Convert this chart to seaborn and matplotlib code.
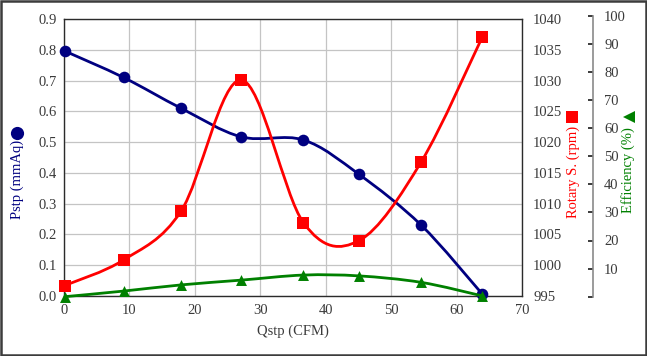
import numpy as np
import matplotlib
matplotlib.use("Agg")
import matplotlib.pyplot as plt
import seaborn as sns
from matplotlib.path import Path
from matplotlib.patches import PathPatch, Rectangle
from matplotlib.lines import Line2D
from matplotlib.ticker import FormatStrFormatter, FixedLocator

# ---- data ----
qstp = [0.1, 9.1, 17.9, 27.1, 36.6, 45.1, 54.6, 63.9]
pstp = [0.796, 0.710, 0.610, 0.517, 0.507, 0.395, 0.230, 0.007]
rotary = [996.7, 1000.85, 1008.8, 1030.1, 1006.9, 1004.0, 1016.8, 1037.0]
efficiency = [0.0, 2.0, 4.2, 5.9, 7.7, 7.4, 5.1, 0.3]

x_ticks = [0, 10, 20, 30, 40, 50, 60, 70]
p_ticks = [0.0, 0.1, 0.2, 0.3, 0.4, 0.5, 0.6, 0.7, 0.8, 0.9]
r_ticks = [995, 1000, 1005, 1010, 1015, 1020, 1025, 1030, 1035, 1040]
e_ticks = [0, 10, 20, 30, 40, 50, 60, 70, 80, 90, 100]

x_label = "Qstp (CFM)"
p_label = "Pstp (mmAq)"
r_label = "Rotary S. (rpm)"
e_label = "Efficiency (%)"

NAVY = "#000080"
RED = "#ff0000"
GREEN = "#008000"
TXT = "#3a3a3a"

sns.set_theme(style="white")
plt.rcParams["font.family"] = ["Liberation Serif", "DejaVu Sans"]
FS = 10.5

W, H = 647, 356
fig = plt.figure(figsize=(W / 100, H / 100), dpi=100)


def fx(px):
    return px / W


def fy(py):
    return 1 - py / H


def smooth_path(x, y):
    pts = np.column_stack([x, y]).astype(float)
    n = len(pts)
    verts = [pts[0]]
    codes = [Path.MOVETO]
    for i in range(n - 1):
        p0 = pts[i - 1] if i > 0 else pts[i]
        p1 = pts[i]
        p2 = pts[i + 1]
        p3 = pts[i + 2] if i + 2 < n else pts[i + 1]
        c1 = p1 + (p2 - p0) / 6.0
        c2 = p2 - (p3 - p1) / 6.0
        verts += [c1, c2, p2]
        codes += [Path.CURVE4] * 3
    return Path(verts, codes)


L, R, T, B = 64, 522, 19, 296
ax = fig.add_axes([fx(L), fy(B), (R - L) / W, (B - T) / H])
ax.set_facecolor("white")
ax.set_xlim(0, 70)
ax.set_ylim(0, 0.9)
ax.set_xticks(x_ticks)
ax.set_yticks(p_ticks)
ax.yaxis.set_major_formatter(FormatStrFormatter("%.1f"))
ax.grid(True, color="#c4c4c4", lw=0.9)
ax.tick_params(axis="both", length=0, labelsize=FS, colors=TXT)
ax.tick_params(axis="y", pad=5)
ax.tick_params(axis="x", pad=6)
for s in ax.spines.values():
    s.set_color("#2b2b2b")
    s.set_linewidth(1.0)
ax.set_xlabel(x_label, fontsize=FS, color=TXT, labelpad=5)

LW = 2.0
ax.add_patch(PathPatch(smooth_path(qstp, pstp), fill=False, ec=NAVY, lw=LW, zorder=3, clip_on=False))
sns.scatterplot(x=qstp, y=pstp, ax=ax, marker="o", s=70, color=NAVY, edgecolor=NAVY,
                linewidth=0, zorder=4, clip_on=False, legend=False)

# rotary axis
ax2 = ax.twinx()
ax2.set_ylim(995, 1040)
ax2.set_yticks(r_ticks)
ax2.tick_params(axis="y", length=0, labelsize=FS, colors=TXT, pad=8)
for s in ax2.spines.values():
    s.set_visible(False)
ax2.grid(False)
ax2.add_patch(PathPatch(smooth_path(qstp, rotary), fill=False, ec=RED, lw=LW, zorder=3, clip_on=False))
sns.scatterplot(x=qstp, y=rotary, ax=ax2, marker="s", s=78, color=RED, edgecolor=RED,
                linewidth=0, zorder=4, clip_on=False, legend=False)

# efficiency axis
ET, EB = 15.7, 296.7
ax3 = fig.add_axes([fx(L), fy(EB), (R - L) / W, (EB - ET) / H], sharex=ax)
ax3.patch.set_visible(False)
ax3.set_ylim(0, 100)
ax3.yaxis.set_major_locator(FixedLocator(e_ticks))
ax3.set_yticklabels([""] + [str(v) for v in e_ticks[1:]])
ax3.yaxis.tick_right()
ax3.xaxis.set_visible(False)
ax3.grid(False)
for k, s in ax3.spines.items():
    s.set_visible(k == "right")
ax3.spines["right"].set_position(("axes", (593 - L) / (R - L)))
ax3.spines["right"].set_color("#8a8a8a")
ax3.spines["right"].set_linewidth(1.2)
ax3.tick_params(axis="y", direction="in", length=3.5, width=1.2, color="#1a1a1a",
                labelsize=FS, labelcolor=TXT, pad=8)
ax3.add_patch(PathPatch(smooth_path(qstp, efficiency), fill=False, ec=GREEN, lw=LW, zorder=3, clip_on=False))
sns.scatterplot(x=qstp, y=efficiency, ax=ax3, marker="^", s=62, color=GREEN, edgecolor=GREEN,
                linewidth=0, zorder=4, clip_on=False, legend=False)

# axis titles with symbols
fig.text(fx(17), fy(179), p_label, rotation=90, ha="center", va="center", fontsize=FS, color=NAVY)
fig.add_artist(Line2D([fx(17.3)], [fy(133.3)], marker="o", ms=9.5, color=NAVY, mew=0,
                      transform=fig.transFigure))
fig.text(fx(573), fy(172), r_label, rotation=90, ha="center", va="center", fontsize=FS, color=RED)
fig.add_artist(Line2D([fx(571.7)], [fy(117.3)], marker="s", ms=9, color=RED, mew=0,
                      transform=fig.transFigure))
fig.text(fx(628.5), fy(170), e_label, rotation=90, ha="center", va="center", fontsize=FS, color=GREEN)
fig.add_artist(Line2D([fx(629.3)], [fy(117.3)], marker="<", ms=9, color=GREEN, mew=0,
                      transform=fig.transFigure))

# outer border
fig.add_artist(Rectangle((0.0015, 0.003), 0.997, 0.994, transform=fig.transFigure, fill=False,
                         ec="#3c3c3c", lw=1.8))

fig.savefig("out.png", dpi=100, facecolor="white")
